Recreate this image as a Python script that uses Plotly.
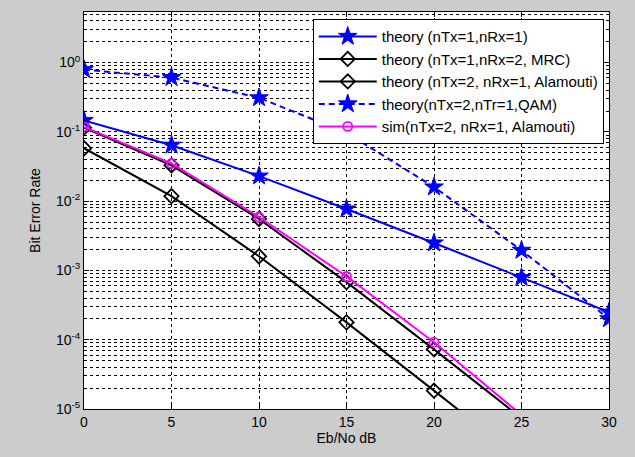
import plotly.graph_objects as go

ebno = [0, 5, 10, 15, 20, 25, 30]
ber_1x1 = [0.146, 0.0642, 0.0230, 0.00771, 0.00249, 0.00079, 0.00025]
ber_mrc = [0.058, 0.0118, 0.0016, 0.000178, 0.0000184, 0.00000186, 0.00000019]
ber_ala = [0.115, 0.0329, 0.00553, 0.000677, 0.0000726, 0.00000742, 0.00000075]
ber_qam = [0.79, 0.607, 0.31, 0.097, 0.016, 0.00195, 0.0002]
ber_sim = [0.118, 0.035, 0.0059, 0.00082, 0.000092, 0.0000082, 0.00000085]

names = [
    "theory (nTx=1,nRx=1)",
    "theory (nTx=1,nRx=2, MRC)",
    "theory (nTx=2, nRx=1, Alamouti)",
    "theory(nTx=2,nTr=1,QAM)",
    "sim(nTx=2, nRx=1, Alamouti)",
]
xticks = [0, 5, 10, 15, 20, 25, 30]
ytick_vals = [1e-5, 1e-4, 1e-3, 1e-2, 1e-1, 1e0]
ytick_text = ["10<sup>-5</sup>", "10<sup>-4</sup>", "10<sup>-3</sup>",
              "10<sup>-2</sup>", "10<sup>-1</sup>", "10<sup>0</sup>"]
minor_vals = [m * d for d in [1e-5, 1e-4, 1e-3, 1e-2, 1e-1, 1e0] for m in range(2, 10)]

fig = go.Figure()
styles = [
    (ber_1x1, "#0000ff", "solid", "star", 14, 1),
    (ber_mrc, "#000000", "solid", "diamond-open", 11, 1.8),
    (ber_ala, "#000000", "solid", "diamond-open", 11, 1.8),
    (ber_qam, "#0000ff", "6px,4px", "star", 14, 1),
    (ber_sim, "#ff00ff", "solid", "circle-open", 9, 1.8),
]
for (ys, col, dash, sym, sz, lw), nm in zip(styles, names):
    fig.add_trace(go.Scatter(
        x=ebno, y=ys, name=nm, mode="lines+markers",
        line=dict(color=col, width=2, dash=dash),
        marker=dict(symbol=sym, size=sz, color=col, line=dict(color=col, width=lw)),
    ))

grid_dash = "3px,3px"
fig.update_layout(
    width=635, height=457,
    paper_bgcolor="#cccccc", plot_bgcolor="white",
    margin=dict(l=84, r=26, t=12, b=48),
    font=dict(family="Liberation Sans, Arial, sans-serif", size=14, color="black"),
    showlegend=True,
    legend=dict(
        x=0.99, y=0.982, xanchor="right", yanchor="top",
        bgcolor="white", bordercolor="black", borderwidth=1,
        font=dict(size=15), itemwidth=58, tracegroupgap=0,
    ),
    xaxis=dict(
        range=[0, 30], tickmode="array", tickvals=xticks, automargin=False,
        showline=True, linecolor="black", linewidth=1, mirror="allticks",
        ticks="inside", ticklen=5, tickcolor="black",
        showgrid=True, gridcolor="black", griddash=grid_dash, gridwidth=1,
        zeroline=False, tickfont=dict(size=14),
        title=dict(text="Eb/No dB", standoff=4, font=dict(size=14)),
    ),
    yaxis=dict(
        type="log", range=[-5, 0.73], automargin=False,
        tickmode="array", tickvals=ytick_vals, ticktext=ytick_text,
        showline=True, linecolor="black", linewidth=1, mirror="allticks",
        ticks="inside", ticklen=5, tickcolor="black",
        showgrid=True, gridcolor="black", griddash=grid_dash, gridwidth=1,
        zeroline=False, tickfont=dict(size=14),
        minor=dict(tickvals=minor_vals, ticks="inside", ticklen=3, tickcolor="black",
                   showgrid=True, gridcolor="black", griddash=grid_dash, gridwidth=1),
        title=dict(text="Bit Error Rate", standoff=12, font=dict(size=14)),
    ),
)

fig.write_html(
    "out.html",
    config={"displayModeBar": False},
    post_script="document.body.style.margin='0';document.body.style.background='#cccccc';",
)
